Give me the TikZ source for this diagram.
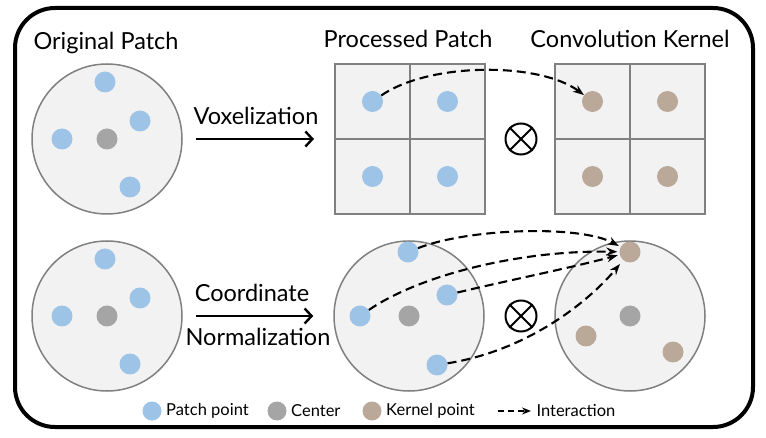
\documentclass[tikz,border=0pt]{standalone}
\usepackage{fontspec}
\setmainfont{Lato}
\usetikzlibrary{matrix,positioning,arrows.meta}

\definecolor{ptblue}{HTML}{9DC3E6}
\definecolor{ptgray}{HTML}{A5A5A5}
\definecolor{ptbrown}{HTML}{BAA898}
\definecolor{patchfill}{HTML}{F2F2F2}
\definecolor{patchline}{HTML}{808080}

\begin{document}
\begin{tikzpicture}[
        x=1pt,
        y=-1pt,
        patch/.style={
          circle,
          draw=patchline,
          fill=patchfill,
          line width=1.5pt,
          minimum size=150pt
          },
        pointdot/.style={
          circle,
          draw=none,
          inner sep=0pt,
          minimum size=21pt
          },
        patchpt/.style={pointdot, fill=ptblue},
        centerpt/.style={pointdot, fill=ptgray},
        kernelpt/.style={pointdot, fill=ptbrown},
        voxgrid/.style={
          matrix of nodes,
          inner sep=0pt,
          nodes={
            draw=patchline,
            fill=patchfill,
            line width=1.5pt,
            minimum size=75pt,
            inner sep=0pt
            },
          nodes in empty cells,
          column sep=-1.5pt,
          row sep=-1.5pt
          },
        heading/.style={anchor=base, font=\fontsize{23.5}{28}\selectfont},
        legtxt/.style={font=\fontsize{16.5}{20}\selectfont},
        flow/.style={-{Straight Barb[length=7pt,width=15pt]}, line width=2.4pt},
        inter/.style={-{Stealth[length=11pt,width=8pt]}, dash pattern=on 9pt off 5pt, line width=2.1pt},
        prod/.style={circle, draw, line width=2pt, minimum size=31pt, inner sep=0pt}
        ]
        \useasboundingbox (0,0) rectangle (766,438);
        \draw[line width=4pt, rounded corners=40pt] (15,8) rectangle (753,427);

        % headings
        \node[heading] (lorig) at (106,50) {Original Patch};
        \node[heading] (lproc) at (408,48) {Processed Patch};
        \node[heading] (lkern) at (630,48) {Convolution Kernel};
        \node[heading] (lvox) at (256,125) {Voxelization};
        \node[heading] (lcoord) at (252,302) {Coordinate};
        \node[heading] (lnorm) at (258,346) {Normalization};

        % original patches, both rows
        \foreach \row/\cy in {t/139,b/316}
        {\node[patch] (orig\row) at (107,\cy) {};
         \node[centerpt] at (orig\row) {};
         \foreach \dx/\dy [count=\i] in {-2/-57,33/-18,-45/0,23/48}
           \node[patchpt] (orig\row\i) at ([shift={(\dx,\dy)}]orig\row.center) {};
        }

        % voxel grids
        \matrix[voxgrid] (pgrid) at (410,139)
        {
        & \\
        & \\
        };
        \matrix[voxgrid] (kgrid) at (630,139)
        {
        & \\
        & \\
        };
        \foreach \r in {1,2}
        {\foreach \c in {1,2}
          {\node[patchpt] (pv\r\c) at (pgrid-\r-\c) {};
           \node[kernelpt] (kv\r\c) at (kgrid-\r-\c) {};}
        }

        % normalized patch and kernel
        \node[patch] (norm) at (409,316) {};
        \node[centerpt] (normc) at (norm) {};
        \node[patchpt] (nt) at ([shift={(-1,-64)}]norm.center) {};
        \node[patchpt] (nr) at ([shift={(38,-21)}]norm.center) {};
        \node[patchpt] (nl) at ([shift={(-49,0)}]norm.center) {};
        \node[patchpt] (nb) at ([shift={(28,49)}]norm.center) {};
        \node[patch] (kern) at (630,316) {};
        \node[centerpt] (kernc) at (kern) {};
        \node[kernelpt] (kt) at ([shift={(0,-64)}]kern.center) {};
        \node[kernelpt] (kl) at ([shift={(-44,20)}]kern.center) {};
        \node[kernelpt] (kr) at ([shift={(43,36)}]kern.center) {};

        % products
        \node[prod] (ot1) at (521,139) {};
        \node[prod] (ot2) at (521,316) {};
        \foreach \o in {ot1,ot2}
        {\draw[line width=2pt] (\o.45) -- (\o.225);
         \draw[line width=2pt] (\o.135) -- (\o.315);
        }

        % steps
        \draw[flow, shorten <=13pt, shorten >=20pt] (origt.east) -- (pgrid.west);
        \draw[flow, shorten <=13pt, shorten >=20pt] (origb.east) -- (norm.west);

        % interactions
        \draw[inter] (pv11) .. controls (430,62) and (540,62) .. (kv11);
        \draw[inter, shorten >=2pt] (nt) .. controls (470,228) and (580,225) .. (kt);
        \draw[inter, shorten >=2pt] (nl) .. controls (420,275) and (520,250) .. (kt);
        \draw[inter, shorten >=2pt] (nr) .. controls (510,280) and (570,268) .. (kt);
        \draw[inter, shorten >=5pt] (nb) .. controls (530,350) and (590,300) .. (kt);

        % legend
        \node[patchpt, minimum size=19pt] (lgpatch) at (152,411) {};
        \node[legtxt, right=1pt of lgpatch] (lgpatchtxt) {Patch point};
        \node[centerpt, minimum size=19pt] (lgcenter) at (277,411) {};
        \node[legtxt, right=1pt of lgcenter] (lgcentertxt) {Center};
        \node[kernelpt, minimum size=19pt] (lgkernel) at (372,411) {};
        \node[legtxt, right=1pt of lgkernel] (lgkerneltxt) {Kernel point};
        \coordinate (lgfrom) at (498,411);
        \coordinate (lgto) at (531,411);
        \draw[inter, dash pattern=on 6pt off 4pt, -{Stealth[length=9pt,width=7pt]}] (lgfrom) -- (lgto);
        \node[legtxt, right=2pt of lgto] (lginter) {Interaction};
\end{tikzpicture}
\end{document}
